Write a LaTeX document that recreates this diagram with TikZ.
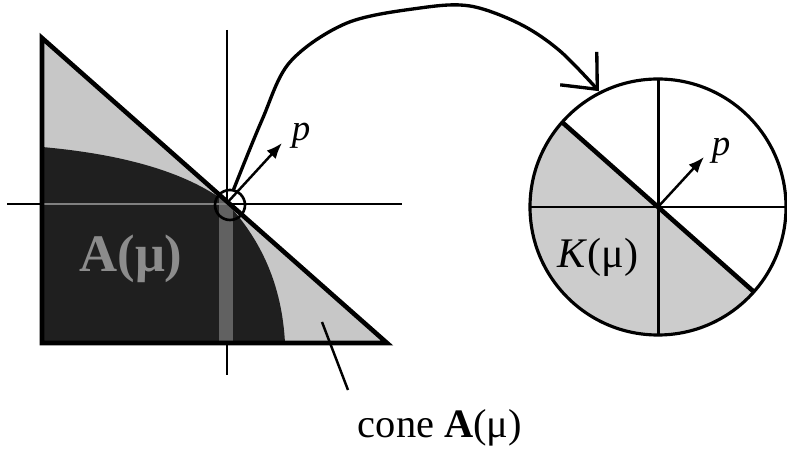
\documentclass[tikz,border=0pt]{standalone}
\usepackage{fontspec}
\setmainfont{Liberation Serif}
\usetikzlibrary{arrows.meta,calc}

\tikzset{
  axis/.style={line width=1.7pt},
  edge/.style={line width=2.6pt},
  lightfill/.style={fill=black!22},
  darkfill/.style={fill=black!88},
  vec/.style={line width=1.4pt,-{Latex[length=9pt,width=7pt]}},
  link/.style={line width=1.9pt,-{Straight Barb[length=16pt,width=28pt]}},
  lbl/.style={inner sep=0pt,font=\fontsize{23}{26}\selectfont},
  plbl/.style={inner sep=0pt,font=\fontsize{21}{24}\selectfont\itshape}
}

\begin{document}
\begin{tikzpicture}[x=0.02cm,y=0.02cm]
\useasboundingbox (0,0) rectangle (787,456);
% left picture
\coordinate (O) at (227,253);
\coordinate (T1) at (42,418);
\coordinate (T2) at (42,113);
\coordinate (T3) at (387,113);
\coordinate (D1) at (42,309);
\coordinate (D2) at (285,113);
\draw[axis] (7,252) -- (402,252);
\draw[axis] (227,426) -- (227,81);
\fill[lightfill] (T1) -- (T2) -- (T3) -- cycle;
\path[darkfill] (D1) .. controls (120,302) and (185,285) .. (O)
  .. controls (262,215) and (282,170) .. (D2) -- (T2) -- cycle;
\begin{scope}
  \clip (D1) .. controls (120,302) and (185,285) .. (O)
    .. controls (262,215) and (282,170) .. (D2) -- (T2) -- cycle;
  \fill[black!62] (219,113) rectangle (233,262);
  \draw[black!50,line width=1.6pt] (42,252) -- (240,252);
\end{scope}
\draw[edge] (T1) -- (T2) -- (T3) -- cycle;
\draw[line width=1.5pt] (230,251) circle (15);
\coordinate (Ptip) at (282,313);
\draw[vec] (O) -- (Ptip);
\node[plbl] (pA) at (301,320) {p};
\node[lbl,font=\fontsize{30}{32}\selectfont\bfseries,text=black!45] (Amu) at (131,197)
  {A(μ)};
% pointer and label
\coordinate (cA) at (322,134);
\node[lbl] (cone) at (440,28) {cone \textbf{A}(μ)};
\draw[line width=1.4pt] (cA) -- (348,66);
% right disc
\coordinate (C) at (658,249);
\fill[fill=black!20] (C) ++(138.5:128) arc[start angle=138.5,end angle=318.5,radius=128] -- cycle;
\draw[axis] (C) ++(90:128) -- ++(0,-256);
\draw[axis] (C) ++(180:128) -- ++(256,0);
\draw[edge] (C) ++(138.5:128) -- ($(C)+(-41.5:128)$);
\draw[line width=1.8pt] (C) circle (128);
\coordinate (Qtip) at (704,299);
\draw[vec] (C) -- (Qtip);
\node[plbl] (pK) at (721,305) {p};
\node[lbl,font=\fontsize{24}{26}\selectfont] (Kmu) at (598,199) {\textit{K}(μ)};
% curved arrow
\coordinate (start) at (233,265);
\coordinate (Ktip) at ($(C)+(117:130)$);
\draw[link] plot[smooth,tension=0.55] coordinates {(start) (262,336) (290,394) (347,433) (420,448) (470,450) (520,432) (560,405) (Ktip)};
\end{tikzpicture}
\end{document}
